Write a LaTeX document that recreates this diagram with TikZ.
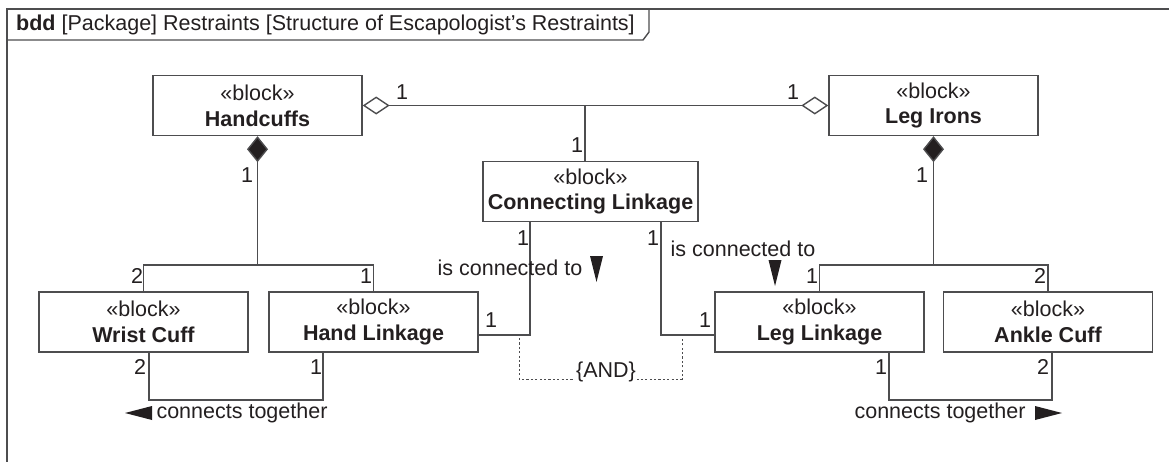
\documentclass[tikz,border=0pt]{standalone}
\usepackage{fontspec}
\setmainfont{Liberation Sans}
\usetikzlibrary{arrows.meta}
\definecolor{ln}{HTML}{4D4D4F}
\definecolor{tx}{HTML}{231F20}
\begin{document}
\begin{tikzpicture}[x=1pt,y=-1pt,
  every node/.style={text=tx, font=\fontsize{21.5}{25.8}\selectfont},
  block/.style={draw=ln, line width=1.4pt, minimum width=209pt, minimum height=60pt, align=center, inner sep=0pt, fill=white},
  conn/.style={draw=ln, line width=1.4pt},
  agg/.style={conn, {Diamond[open,length=27pt,width=18pt]}-{Diamond[open,length=27pt,width=18pt]}},
  comp/.style={conn, {Diamond[length=26pt,width=21pt,fill=tx]}-},
  mult/.style={inner sep=0pt},
  tri/.style={fill=tx, draw=none},
  constraint/.style={draw=ln, line width=1pt, dash pattern=on 2.2pt off 2.2pt},
  frame/.style={draw=ln, line width=1.4pt}
]
\useasboundingbox (0,0) rectangle (1169,461);
% frame
\draw[frame] (7,470) -- (7,9) -- (1175,9);
\draw[frame] (7,40) -- (643,40) -- (649,32) -- (649,9);
\node[anchor=west, inner sep=0pt] (title) at (16,25) {\textbf{bdd} [Package] Restraints [Structure of Escapologist’s Restraints]};

% blocks
\node[block] (HC) at (257.5,105.5) {«block»\\\textbf{Handcuffs}};
\node[block] (LI) at (933.5,105.5) {«block»\\\textbf{Leg Irons}};
\node[block, minimum width=215pt] (CL) at (590.5,191.5) {«block»\\\textbf{Connecting Linkage}};
\node[block] (WC) at (143.5,322) {«block»\\\textbf{Wrist Cuff}};
\node[block] (HL) at (373.5,322) {«block»\\\textbf{Hand Linkage}};
\node[block] (LL) at (819.5,322) {«block»\\\textbf{Leg Linkage}};
\node[block] (AC) at (1048,322) {«block»\\\textbf{Ankle Cuff}};

% aggregation
\draw[agg] (HC.east) -- (LI.west);
\coordinate (aggT) at (585,105.5);
\draw[conn] (CL.north -| aggT) -- (aggT);
\node[mult] (m1) at (402,92) {1};
\node[mult] (m2) at (793,92) {1};
\node[mult] (m3) at (577,145) {1};

% composition left
\coordinate (jl) at (258,265);
\draw[comp] (HC.south) -- (HC.south |- jl);
\draw[conn] (WC.north) -- (WC.north |- jl) -- (HL.north |- jl) -- (HL.north);
\node[mult] (m4) at (247,175) {1};
\node[mult] (m5) at (137,276) {2};
\node[mult] (m6) at (366,276) {1};

% composition right
\coordinate (jr) at (933,265);
\draw[comp] (LI.south) -- (LI.south |- jr);
\draw[conn] (LL.north) -- (LL.north |- jr) -- (AC.north |- jr) -- (AC.north);
\node[mult] (m7) at (922,175) {1};
\node[mult] (m8) at (812,276) {1};
\node[mult] (m9) at (1040,276) {2};

% is connected to (left)
\coordinate (cla) at (530,335);
\draw[conn] (CL.south -| cla) -- (cla) -- (HL.east |- cla);
\node[mult] (m10) at (523,238) {1};
\node[mult] (m11) at (491,320) {1};
\node[inner sep=0pt] (ict1) at (510,268) {is connected to};
\fill[tri] (590,256) -- (603,256) -- (596.5,282) -- cycle;

% is connected to (right)
\coordinate (clb) at (661,335);
\draw[conn] (CL.south -| clb) -- (clb) -- (LL.west |- clb);
\node[mult] (m12) at (653,238) {1};
\node[mult] (m13) at (705,320) {1};
\node[inner sep=0pt] (ict2) at (743,249) {is connected to};
\fill[tri] (768.5,260) -- (781.5,260) -- (775,286) -- cycle;

% AND constraint
\coordinate (and1) at (519,338);
\coordinate (and2) at (682,338);
\draw[constraint] (and1) -- (and1 |- 0,379) -- (and2 |- 0,379) -- (and2);
\node[fill=white, inner sep=1pt] (and) at (606,372) {\{AND\}};

% connects together (left)
\coordinate (ctl1) at (149,400);
\coordinate (ctl2) at (323,400);
\draw[conn] (WC.south -| ctl1) -- (ctl1) -- (ctl2) -- (HL.south -| ctl2);
\node[mult] (m14) at (140,367) {2};
\node[mult] (m15) at (316,367) {1};
\node[inner sep=0pt] (ct1) at (242,413) {connects together};
\fill[tri] (125,413) -- (152,406) -- (152,420) -- cycle;

% connects together (right)
\coordinate (ctr1) at (889,400);
\coordinate (ctr2) at (1052,400);
\draw[conn] (LL.south -| ctr1) -- (ctr1) -- (ctr2) -- (AC.south -| ctr2);
\node[mult] (m16) at (881,367) {1};
\node[mult] (m17) at (1043,367) {2};
\node[inner sep=0pt] (ct2) at (940,413) {connects together};
\fill[tri] (1062,413) -- (1035,406) -- (1035,420) -- cycle;
\end{tikzpicture}
\end{document}
